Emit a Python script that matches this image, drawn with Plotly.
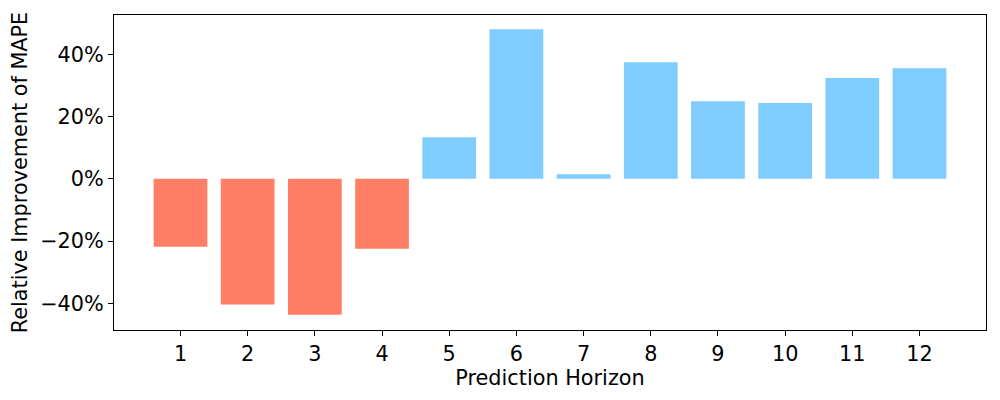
import plotly.graph_objects as go

# Relative improvement of MAPE (%) per prediction horizon
horizons = [1, 2, 3, 4, 5, 6, 7, 8, 9, 10, 11, 12]
improvement = [-21.8, -40.4, -43.7, -22.5, 13.4, 48.1, 1.5, 37.5, 25.0, 24.4, 32.4, 35.6]

NEG_COLOR = "#FF7F66"
POS_COLOR = "#7FCCFF"
colors = [NEG_COLOR if v < 0 else POS_COLOR for v in improvement]

FONT = dict(family="DejaVu Sans, sans-serif", size=20.8, color="black")

fig = go.Figure(
    go.Bar(
        x=horizons,
        y=improvement,
        marker_color=colors,
        marker_line_width=0,
        width=0.8,
    )
)

axis_common = dict(
    showline=True,
    linecolor="black",
    linewidth=1,
    mirror=True,
    showgrid=False,
    zeroline=False,
    ticks="outside",
    ticklen=5,
    tickwidth=1,
    tickcolor="black",
    tickfont=FONT,
)

# page body has an 8px offset, so the figure is sized to fill the rest
fig.update_layout(
    width=992,
    height=392,
    paper_bgcolor="white",
    plot_bgcolor="white",
    font=FONT,
    showlegend=False,
    margin=dict(l=106, r=14, t=7, b=70),
    xaxis=dict(
        **axis_common,
        range=[0.01, 12.99],
        tickvals=horizons,
        title=dict(text="Prediction Horizon", font=FONT, standoff=2),
    ),
    yaxis=dict(
        **axis_common,
        range=[-48.6, 52.7],
        tickvals=[-40, -20, 0, 20, 40],
        ticktext=["\u221240%", "\u221220%", "0%", "20%", "40%"],
        title=dict(text="Relative Improvement of MAPE", font=FONT, standoff=6),
    ),
)

fig.write_html("out.html")
